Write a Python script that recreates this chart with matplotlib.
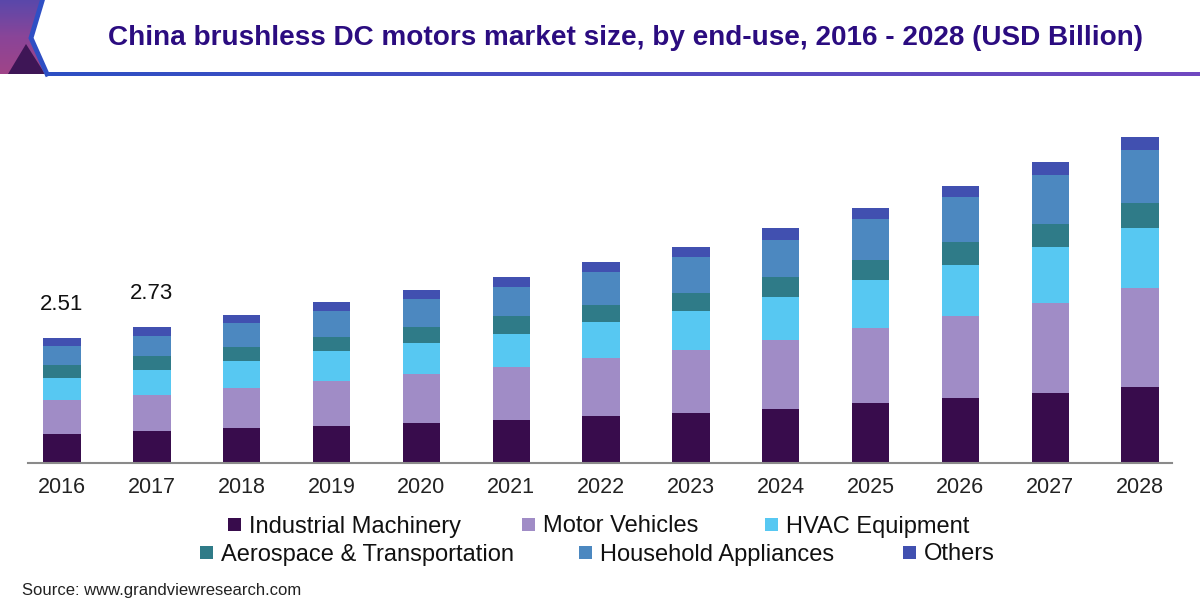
import numpy as np
import matplotlib
matplotlib.use("Agg")
import matplotlib.pyplot as plt
from matplotlib.patches import Polygon, Rectangle
from matplotlib.colors import LinearSegmentedColormap

plt.rcParams['font.family'] = ['Liberation Sans', 'DejaVu Sans']

years = ['2016', '2017', '2018', '2019', '2020', '2021', '2022',
         '2023', '2024', '2025', '2026', '2027', '2028']

industrial = [0.59, 0.64, 0.70, 0.75, 0.81, 0.87, 0.95, 1.01, 1.09, 1.20, 1.30, 1.41, 1.53]
motor_veh = [0.67, 0.73, 0.81, 0.90, 0.97, 1.05, 1.15, 1.25, 1.37, 1.51, 1.65, 1.80, 1.98]
hvac = [0.45, 0.49, 0.53, 0.59, 0.63, 0.67, 0.72, 0.79, 0.87, 0.95, 1.02, 1.11, 1.20]
aerospace = [0.26, 0.28, 0.28, 0.29, 0.31, 0.35, 0.35, 0.36, 0.40, 0.41, 0.46, 0.47, 0.51]
household = [0.37, 0.41, 0.48, 0.52, 0.56, 0.58, 0.65, 0.71, 0.73, 0.81, 0.90, 0.99, 1.05]
others = [0.17, 0.18, 0.17, 0.17, 0.18, 0.21, 0.20, 0.20, 0.24, 0.23, 0.23, 0.26, 0.27]

labels = ['Industrial Machinery', 'Motor Vehicles', 'HVAC Equipment',
          'Aerospace & Transportation', 'Household Appliances', 'Others']
colors = ['#380c4c', '#a08cc6', '#57c8f2', '#2f7b88', '#4c88c0', '#4150b0']
shown_totals = {0: '2.51', 1: '2.73'}

series = [industrial, motor_veh, hvac, aerospace, household, others]

fig = plt.figure(figsize=(12, 6), dpi=100)
fig.patch.set_facecolor('white')

# header decoration, pixel coords
deco = fig.add_axes([0, 0, 1, 1])
deco.axis('off')

cmap_left = LinearSegmentedColormap.from_list('l', ['#5a48aa', '#8a4598', '#a04488'])
grad = np.linspace(0, 1, 100).reshape(-1, 1) * np.ones((1, 10))
img = deco.imshow(grad, cmap=cmap_left, extent=(0, 50, 74, 0), aspect='auto', zorder=1)
chev = Polygon([(0, 0), (43, 0), (31, 38), (47, 74), (0, 74)], closed=True,
               transform=deco.transData, facecolor='none', edgecolor='none')
deco.add_patch(chev)
img.set_clip_path(chev)
deco.add_patch(Polygon([(26, 44), (8, 74), (45, 74)], closed=True,
                       facecolor='#3e1656', edgecolor='none', zorder=2))
deco.plot([43, 31, 47], [-2, 38, 74], color='#2f4fc4', lw=3.5, zorder=3,
          solid_joinstyle='miter')
cmap_line = LinearSegmentedColormap.from_list('ln', ['#2d50c4', '#7048c0'])
strip = np.linspace(0, 1, 200).reshape(1, -1)
deco.imshow(strip, cmap=cmap_line, extent=(45, 1200, 76.5, 72.5), aspect='auto', zorder=3)
deco.set_xlim(0, 1200)
deco.set_ylim(600, 0)

deco.text(625, 38, 'China brushless DC motors market size, by end-use, 2016 - 2028 (USD Billion)',
          ha='center', va='center', fontsize=20.1, fontweight='bold', color='#2b0c80')
deco.text(22, 590, 'Source: www.grandviewresearch.com', ha='left', va='center',
          fontsize=12, color='#222222')

# legend, placed by hand in two centred rows
legend_pos = [(228, 524), (522, 524), (765, 524), (200, 552), (579, 552), (903, 552)]
for (lx, ly), lab, col in zip(legend_pos, labels, colors):
    deco.add_patch(Rectangle((lx, ly - 6.5), 13, 13, facecolor=col, edgecolor='none'))
    deco.text(lx + 21, ly + 8.5, lab, ha='left', va='baseline', fontsize=17, color='#111111')

# chart
ax = fig.add_axes([28 / 1200, 1 - 463 / 600, 1144 / 1200, 0.5822])
x = np.arange(len(years))
bottom = np.zeros(len(years))
for vals, lab, col in zip(series, labels, colors):
    ax.bar(x, vals, width=0.415, bottom=bottom, color=col, label=lab, zorder=2)
    bottom += np.array(vals)

for i, txt in shown_totals.items():
    ax.text(x[i], bottom[i] + 0.45, txt, ha='center', va='bottom', fontsize=16, color='#111111')

ax.set_xlim(-0.379, 12.356)
ax.set_ylim(0, 7)
ax.set_xticks(x)
ax.set_xticklabels(years, fontsize=15.5, color='#222222')
ax.tick_params(axis='x', length=0, pad=10)
ax.set_yticks([])
for s in ['top', 'right', 'left']:
    ax.spines[s].set_visible(False)
ax.spines['bottom'].set_color('#8a8a8a')
ax.spines['bottom'].set_linewidth(1.5)
ax.set_facecolor('none')

fig.savefig('out.png', dpi=100, facecolor='white')
